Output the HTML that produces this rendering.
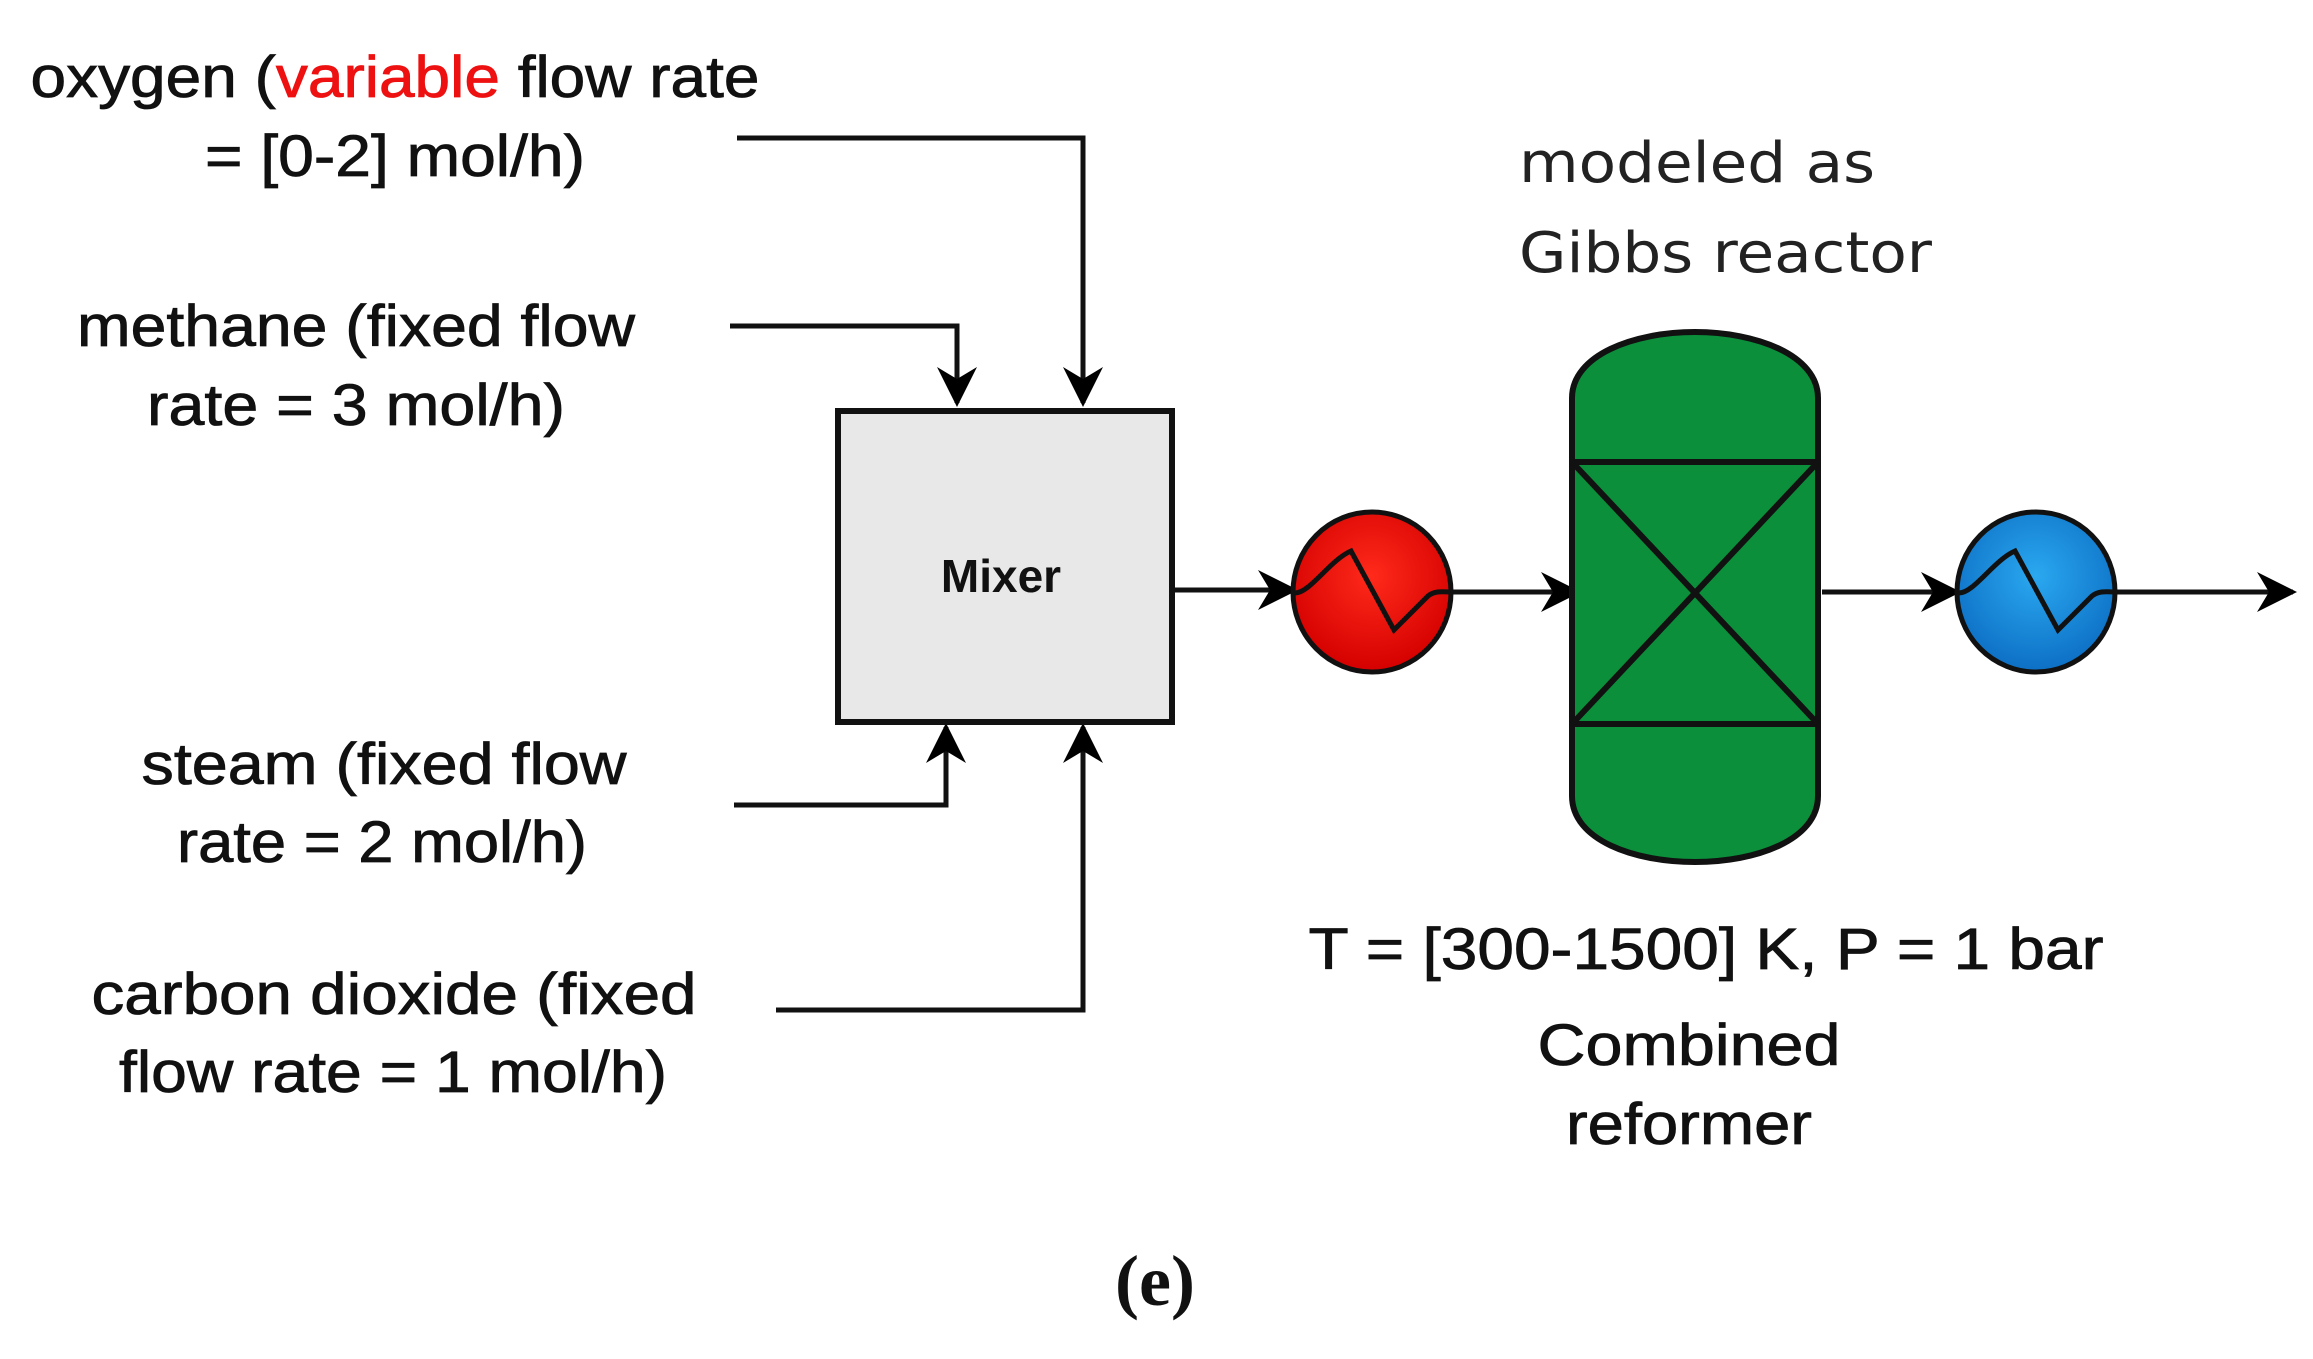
<!DOCTYPE html>
<html><head><meta charset="utf-8"><style>html,body{margin:0;padding:0;background:#fff}svg{display:block}</style></head>
<body>
<svg width="2313" height="1359" viewBox="0 0 2313 1359" xmlns="http://www.w3.org/2000/svg">
<defs>
<marker id="a" viewBox="0 0 10 10" refX="9" refY="5" markerWidth="8" markerHeight="8" markerUnits="strokeWidth" orient="auto"><path d="M0,0 L10,5 L0,10 L3,5 z" fill="#000"/></marker>
<radialGradient id="rg" cx="0.5" cy="0.4" r="0.6"><stop offset="0" stop-color="#ff2a1a"/><stop offset="1" stop-color="#d40000"/></radialGradient>
<radialGradient id="bg" cx="0.5" cy="0.4" r="0.6"><stop offset="0" stop-color="#2aa8f0"/><stop offset="1" stop-color="#0d6fc4"/></radialGradient>
</defs>
<g font-family="Liberation Sans, Arial, sans-serif" font-size="58" fill="#111" stroke="#111" stroke-width="0.8" text-anchor="middle">
<text x="395" y="97" textLength="729" lengthAdjust="spacingAndGlyphs">oxygen (<tspan fill="#ee1111" stroke="#ee1111">variable</tspan> flow rate</text>
<text x="395" y="176" textLength="380" lengthAdjust="spacingAndGlyphs">= [0-2] mol/h)</text>
<text x="356" y="346" textLength="558" lengthAdjust="spacingAndGlyphs">methane (fixed flow</text>
<text x="356" y="425" textLength="418" lengthAdjust="spacingAndGlyphs">rate = 3 mol/h)</text>
<text x="384" y="784" textLength="485" lengthAdjust="spacingAndGlyphs">steam (fixed flow</text>
<text x="382" y="862" textLength="410" lengthAdjust="spacingAndGlyphs">rate = 2 mol/h)</text>
<text x="394" y="1014" textLength="605" lengthAdjust="spacingAndGlyphs">carbon dioxide (fixed</text>
<text x="393" y="1092" textLength="548" lengthAdjust="spacingAndGlyphs">flow rate = 1 mol/h)</text>
<text x="1706" y="969" textLength="795" lengthAdjust="spacingAndGlyphs">T = [300-1500] K, P = 1 bar</text>
<text x="1689" y="1065" textLength="303" lengthAdjust="spacingAndGlyphs">Combined</text>
<text x="1689" y="1144" textLength="246" lengthAdjust="spacingAndGlyphs">reformer</text>
</g>
<g font-family="DejaVu Sans, sans-serif" font-size="56" fill="#222">
<text x="1519" y="182" textLength="356" lengthAdjust="spacingAndGlyphs">modeled as</text>
<text x="1519" y="272" textLength="413" lengthAdjust="spacingAndGlyphs">Gibbs reactor</text>
</g>
<g fill="none" stroke="#111" stroke-width="5">
<path d="M737,138 H1083 V403" marker-end="url(#a)"/>
<path d="M730,326 H957 V403" marker-end="url(#a)"/>
<path d="M734,805 H946 V727" marker-end="url(#a)"/>
<path d="M776,1010 H1083 V727" marker-end="url(#a)"/>
<path d="M1172,590 H1294" marker-end="url(#a)"/>
<path d="M1451,592 H1577" marker-end="url(#a)"/>
<path d="M1822,592 H1957" marker-end="url(#a)"/>
<path d="M2115,592 H2293" marker-end="url(#a)"/>
</g>
<rect x="838" y="411" width="334" height="311" fill="#e8e8e8" stroke="#111" stroke-width="6"/>
<text x="1001" y="592" font-family="Liberation Sans, Arial, sans-serif" font-weight="bold" font-size="46" text-anchor="middle" fill="#111">Mixer</text>
<ellipse cx="1372" cy="592" rx="79" ry="80" fill="url(#rg)" stroke="#111" stroke-width="5"/>
<path d="M1295,593 C1310,593 1330,560 1351,551 L1394,630 L1428,596 C1435,590 1445,592 1451,592" fill="none" stroke="#111" stroke-width="5"/>
<ellipse cx="2036" cy="592" rx="79" ry="80" fill="url(#bg)" stroke="#111" stroke-width="5"/>
<path d="M1959,593 C1974,593 1994,560 2015,551 L2058,630 L2092,596 C2099,590 2109,592 2115,592" fill="none" stroke="#111" stroke-width="5"/>
<path d="M1578,398 C1578,355 1640,332 1701,332 C1762,332 1824,355 1824,398 V796 C1824,840 1762,862 1701,862 C1640,862 1578,840 1578,796 Z" fill="#0b8f3b" stroke="#111" stroke-width="6" transform="translate(-6,0)"/>
<g stroke="#111" stroke-width="6" fill="none" transform="translate(-6,0)">
<rect x="1578" y="462" width="246" height="262"/>
<path d="M1578,462 L1824,724 M1824,462 L1578,724"/>
</g>
<text x="1155" y="1305" font-family="Liberation Serif, serif" font-weight="bold" font-size="72" text-anchor="middle" fill="#111">(e)</text>
</svg>
</body></html>
